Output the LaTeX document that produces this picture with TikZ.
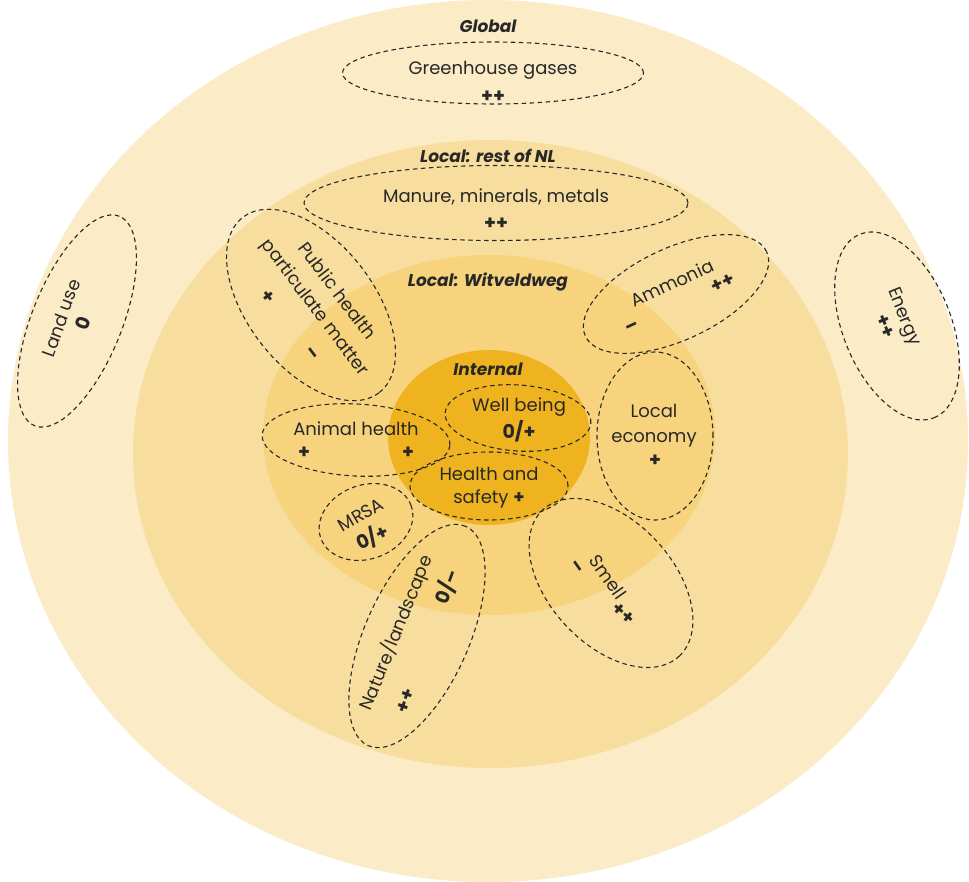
\documentclass[tikz,border=0pt]{standalone}
\usepackage{fontspec}
\setmainfont{Poppins}
\usetikzlibrary{shapes.geometric}
\definecolor{ringglobal}{RGB}{251,235,198}
\definecolor{ringnl}{RGB}{248,222,158}
\definecolor{ringwit}{RGB}{246,211,124}
\definecolor{ringint}{RGB}{240,179,32}
\definecolor{ink}{RGB}{40,40,40}
\tikzset{
  grp/.style={draw=ink, dash pattern=on 4.5pt off 3.5pt, line width=1.1pt, ellipse, inner sep=0pt, fill=none},
  lbl/.style={font=\fontsize{18}{23}\selectfont, text=ink, inner sep=0pt, align=center},
  sgn/.style={font=\fontsize{19}{21}\selectfont\bfseries, text=ink, inner sep=0pt},
  zone/.style={font=\fontsize{17}{19}\selectfont\bfseries\itshape, text=ink, inner sep=0pt}
}
\begin{document}
\begin{tikzpicture}[x=1pt,y=-1pt]
\useasboundingbox (0,0) rectangle (969,882);
\fill[white] (0,0) rectangle (969,882);
% nested zones
\fill[ringglobal] (488,441) ellipse [x radius=480, y radius=441];
\fill[ringnl] (490.5,454) ellipse [x radius=357.5, y radius=314];
\fill[ringwit] (489,435) ellipse [x radius=226, y radius=180];
\fill[ringint] (489,437.5) ellipse [x radius=101, y radius=87.5];
% zone titles
\node[zone] (tglobal) at (488,26) {Global};
\node[zone] (tnl) at (488,156) {Local: rest of NL};
\node[zone] (twit) at (488,282) {Local: Witveldweg};
\node[zone] (tint) at (488,369) {Internal};
% effect groups
\node[grp, minimum width=301, minimum height=62] (ghg) at (493,73) {};
\node[lbl] (ghgt) at (493,70) {Greenhouse gases};
\node[sgn] (ghgs) at (493,97) {++};

\node[grp, minimum width=384, minimum height=75] (man) at (496,203) {};
\node[lbl] (mant) at (496,197) {Manure, minerals, metals};
\node[sgn] (mans) at (496,224) {++};

\node[grp, minimum width=222, minimum height=126, rotate=-52] (ph) at (311,305) {};
\node[lbl, font=\fontsize{18}{27}\selectfont, rotate=-53] (pht) at (325,300) {Public health\\particulate matter};
\node[sgn, rotate=-53] (phs1) at (268,297) {+};
\node[sgn, rotate=-53] (phs2) at (311,354) {--};

\node[grp, minimum width=200, minimum height=92, rotate=25] (amm) at (676,294) {};
\node[lbl, rotate=25] (ammt) at (672,283) {Ammonia};
\node[sgn, rotate=25] (amms1) at (723,283) {++};
\node[sgn, rotate=25] (amms2) at (633,328) {--};

\node[grp, minimum width=116, minimum height=168] (eco) at (655,436) {};
\node[lbl, font=\fontsize{18}{25}\selectfont] (ecot) at (654,425.5) {Local\\economy};
\node[sgn] (ecos) at (655,461) {+};

\node[grp, minimum width=146, minimum height=66, rotate=-4] (wb) at (518,418) {};
\node[lbl] (wbt) at (519,407) {Well being};
\node[sgn] (wbs) at (519,431) {0/+};

\node[grp, minimum width=188, minimum height=72, rotate=-3] (ah) at (356,440) {};
\node[lbl] (aht) at (356,429) {Animal health};
\node[sgn] (ahs1) at (304,453) {+};
\node[sgn] (ahs2) at (408,453) {+};

\node[grp, minimum width=158, minimum height=68] (hs) at (489,486) {};
\node[lbl] (hst) at (489,487.5) {Health and\\safety \textbf{+}};

\node[grp, minimum width=96, minimum height=74, rotate=20] (mrsa) at (366,522) {};
\node[lbl, rotate=30] (mrsat) at (361,515) {MRSA};
\node[sgn, rotate=25] (mrsas) at (372,537) {0/+};

\node[grp, minimum width=240, minimum height=104, rotate=66] (nat) at (417,636) {};
\node[lbl, rotate=68] (natt) at (396,633) {Nature/landscape};
\node[sgn, rotate=70] (nats1) at (447,587) {0/--};
\node[sgn, rotate=70] (nats2) at (406,701) {++};

\node[grp, minimum width=200, minimum height=124, rotate=-47] (sm) at (611,583) {};
\node[lbl, rotate=-55] (smt) at (608,577) {Smell};
\node[sgn, rotate=-55] (sms1) at (576,568) {--};
\node[sgn, rotate=-40] (sms2) at (623,614) {++};

\node[grp, minimum width=226, minimum height=90, rotate=68] (land) at (77,321) {};
\node[lbl, rotate=70] (landt) at (61,318) {Land use};
\node[sgn, rotate=70] (lands) at (83,323) {0};

\node[grp, minimum width=198, minimum height=108, rotate=-68] (en) at (897,326) {};
\node[lbl, rotate=-68] (ent) at (903,317) {Energy};
\node[sgn, rotate=-68] (ens) at (885,326) {++};
\end{tikzpicture}
\end{document}
